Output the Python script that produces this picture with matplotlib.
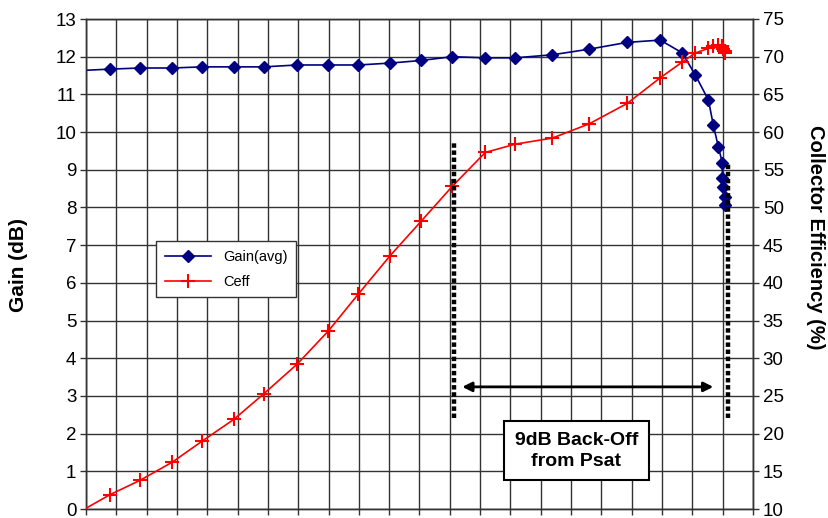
import matplotlib
matplotlib.use("Agg")
import matplotlib.pyplot as plt
import numpy as np

plt.rcParams['font.family'] = ['Liberation Sans', 'DejaVu Sans']

# Drive level (grid units) shared by both traces
drive = [0.0, 0.79, 1.78, 2.84, 3.83, 4.88, 5.87, 6.96, 7.99, 8.98, 10.03,
         11.06, 12.08, 13.17, 14.16, 15.38, 16.60, 17.85, 18.94, 19.67,
         20.10, 20.53, 20.69, 20.86, 20.99, 20.99, 21.02, 21.06, 21.09]

gain_db = [11.64, 11.67, 11.70, 11.70, 11.73, 11.73, 11.73, 11.78, 11.78,
           11.78, 11.83, 11.90, 12.00, 11.97, 11.97, 12.05, 12.20, 12.38,
           12.44, 12.10, 11.51, 10.85, 10.19, 9.60, 9.18, 8.78, 8.54, 8.28,
           8.06]

ceff_pct = [10.1, 11.9, 13.8, 16.2, 19.0, 21.9, 25.3, 29.2, 33.6, 38.5,
            43.6, 48.2, 52.8, 57.3, 58.4, 59.2, 61.1, 63.8, 67.2, 69.3,
            70.5, 71.1, 71.4, 71.5, 71.4, 71.3, 71.0, 70.7, 70.5]

gain_ticks = list(range(0, 14))
eff_ticks = list(range(10, 80, 5))

# Back-off annotation geometry (drive units / gain units)
backoff_left = 12.15
backoff_right = 21.16
backoff_label = "9dB Back-Off\nfrom Psat"

fig = plt.figure(figsize=(8.29, 5.18), dpi=100)
ax = fig.add_axes([86 / 829, 9 / 518, 667 / 829, 490 / 518])
ax2 = ax.twinx()

ax.set_xlim(0, 22)
ax.set_ylim(0, 13)
ax2.set_ylim(10, 75)

ax.set_xticks(np.arange(0, 23, 1))
ax.set_xticklabels([])
ax.set_yticks(gain_ticks)
ax.set_yticklabels([str(t) for t in gain_ticks])
ax2.set_yticks(eff_ticks)
ax2.set_yticklabels([str(t) for t in eff_ticks])

ax.grid(True, color='#333333', linewidth=1.0)
ax.set_axisbelow(True)
for a in (ax, ax2):
    for s in a.spines.values():
        s.set_color('#333333')
        s.set_linewidth(1.0)
ax.tick_params(axis='both', direction='out', length=4, width=1.0,
               color='#333333', labelsize=13.5, pad=3)
ax2.tick_params(axis='y', direction='out', length=4, width=1.0,
                color='#333333', labelsize=13.5, pad=3)

l1, = ax.plot(drive, gain_db, color='#000080', lw=1.2, marker='D',
              ms=6.5, markevery=list(range(1, len(drive))),
              label='Gain(avg)', zorder=4, clip_on=True)
l2, = ax2.plot(drive, ceff_pct, color='#ff0000', lw=1.2, marker='+',
               ms=10, mew=1.5, markevery=list(range(1, len(drive))),
               label='Ceff', zorder=4)

ax.set_ylabel('Gain (dB)', fontsize=15, fontweight='bold')
ax.yaxis.set_label_coords(-0.087, 0.498)
ax2.set_ylabel('Collector Efficiency (%)', fontsize=14.5, fontweight='bold',
               rotation=270, va='center')
ax2.yaxis.set_label_coords(1.093, 0.555)

# Dotted markers bounding the back-off range
ax2.plot([backoff_left, backoff_left], [2.41 * 5 + 10, 9.71 * 5 + 10],
         color='black', lw=3.2, linestyle=(0, (1, 0.6)),
         solid_capstyle='butt', dash_capstyle='butt', zorder=5)
ax2.plot([backoff_right, backoff_right], [2.41 * 5 + 10, 9.18 * 5 + 10],
         color='black', lw=3.2, linestyle=(0, (1, 0.6)),
         solid_capstyle='butt', dash_capstyle='butt', zorder=5)

ax.annotate('', xy=(20.69, 3.24), xytext=(12.41, 3.24),
            arrowprops=dict(arrowstyle='<|-|>', color='black', lw=2,
                            mutation_scale=14, shrinkA=0, shrinkB=0),
            zorder=6)

ax.text(16.17, 1.55, backoff_label, ha='center', va='center',
        fontsize=14, fontweight='bold', zorder=7, linespacing=1.3,
        bbox=dict(boxstyle='square,pad=0.55', facecolor='white',
                  edgecolor='black', linewidth=1.5))

leg = ax2.legend(handles=[l1, l2], loc='upper left',
                 bbox_to_anchor=(0.105, 0.547), borderaxespad=0,
                 fontsize=10.5, fancybox=False, framealpha=1,
                 edgecolor='#333333', handlelength=3.2, borderpad=0.6,
                 labelspacing=0.75)
leg.get_frame().set_linewidth(1.0)
leg.set_zorder(10)

fig.savefig('out.png', dpi=100)
